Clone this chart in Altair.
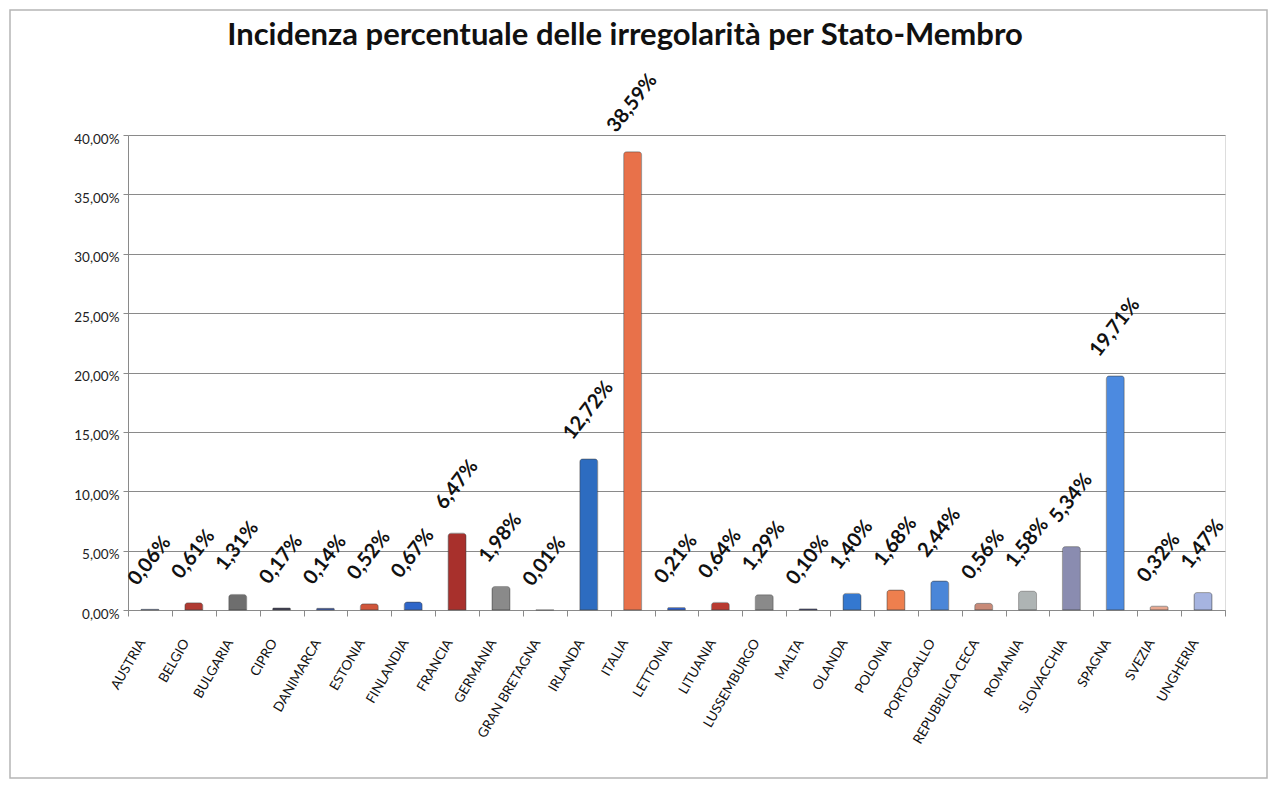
import altair as alt
import pandas as pd

titolo = ["Incidenza percentuale delle irregolarità per Stato-Membro"]
paesi = ["AUSTRIA", "BELGIO", "BULGARIA", "CIPRO", "DANIMARCA", "ESTONIA", "FINLANDIA",
         "FRANCIA", "GERMANIA", "GRAN BRETAGNA", "IRLANDA", "ITALIA", "LETTONIA", "LITUANIA",
         "LUSSEMBURGO", "MALTA", "OLANDA", "POLONIA", "PORTOGALLO", "REPUBBLICA CECA",
         "ROMANIA", "SLOVACCHIA", "SPAGNA", "SVEZIA", "UNGHERIA"]
valori = [0.06, 0.61, 1.31, 0.17, 0.14, 0.52, 0.67, 6.47, 1.98, 0.01, 12.72, 38.59, 0.21,
          0.64, 1.29, 0.10, 1.40, 1.68, 2.44, 0.56, 1.58, 5.34, 19.71, 0.32, 1.47]
colori = ["#3A5DB8", "#B03A32", "#6E6E6E", "#3F3F55", "#3A5DB8", "#D0553A", "#2F66C9",
          "#A8302C", "#8A8A8A", "#3B3F6A", "#2D6CC0", "#E8714A", "#2F5FC8", "#B83A30",
          "#8A8A8A", "#3F4478", "#3478D0", "#EE7F4E", "#4A86D8", "#C88A78", "#AEB4B4",
          "#8A8CB0", "#4C8AE0", "#E8A890", "#A6B4E0"]

df = pd.DataFrame({
    "paese": paesi,
    "valore": valori,
    "etichetta": [f"{v:.2f}".replace(".", ",") + "%" for v in valori],
})

FONT = "Lato"

x_enc = alt.X("paese:N", sort=paesi,
              scale=alt.Scale(paddingInner=0, paddingOuter=0),
              axis=alt.Axis(title=None, labelAngle=-60, labelFontSize=13.5, labelFont=FONT,
                            labelColor="#111", labelPadding=24, labelOffset=-8,
                            tickBand="extent", tickColor="#8a8a8a", tickSize=6,
                            domainColor="#8a8a8a", labelOverlap=False))
y_enc = alt.Y("valore:Q", scale=alt.Scale(domain=[0, 40], nice=False),
              axis=alt.Axis(title=None, values=list(range(0, 45, 5)),
                            labelExpr="replace(format(datum.value, '.2f'), '.', ',') + '%'",
                            labelFontSize=13.5, labelFont=FONT, labelColor="#222",
                            labelOffset=4, labelPadding=4,
                            grid=True, gridColor="#8a8a8a", gridWidth=1,
                            domainColor="#8a8a8a", tickColor="#8a8a8a", tickSize=5))

base = alt.Chart(df)

bars = base.mark_bar(size=18, cornerRadiusTopLeft=3, cornerRadiusTopRight=3,
                     stroke="#444", strokeWidth=0.7, strokeOpacity=0.6).encode(
    x=x_enc, y=y_enc,
    color=alt.Color("paese:N", scale=alt.Scale(domain=paesi, range=colori), legend=None),
)

labels = base.mark_text(angle=308, align="center", baseline="middle", dx=38, dy=-30,
                        font=FONT, fontSize=20, fontWeight="bold", color="#111").encode(
    x=alt.X("paese:N", sort=paesi), y="valore:Q", text="etichetta:N")

frame = alt.Chart(pd.DataFrame({"k": [0]})).mark_rect(
    fill=None, stroke="#b5b5b5", strokeWidth=1.5, clip=False).encode(
    x=alt.value(-118), x2=alt.value(1139), y=alt.value(-125), y2=alt.value(643))

title_mark = alt.Chart(pd.DataFrame({"t": titolo})).mark_text(
    font=FONT, fontSize=31, fontWeight="bold", color="#111",
    align="center", baseline="middle", clip=False).encode(
    x=alt.value(497), y=alt.value(-99), text="t:N")

chart = alt.layer(frame, bars, labels, title_mark).properties(
    width=1097, height=475,
    autosize=alt.AutoSizeParams(type="none"),
    padding={"left": 120, "top": 127, "right": 44, "bottom": 171},
).configure_view(stroke=None).configure(background="white")

chart.save("out.html", embed_options={"renderer": "svg", "actions": False})
